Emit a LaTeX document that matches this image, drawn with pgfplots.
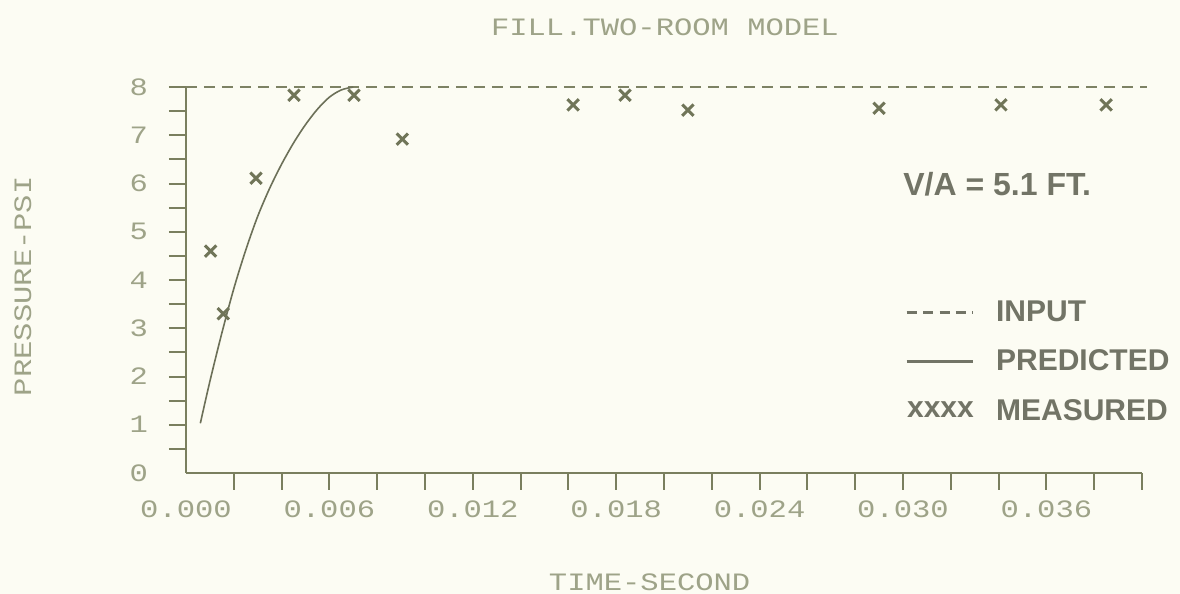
\documentclass[border=0pt]{standalone}
\usepackage{pgfplots}
\pgfplotsset{compat=1.18}
\usepackage{fontspec}
\setmainfont{Liberation Sans}
\newfontfamily\plotfont[FakeStretch=1.22]{Liberation Mono}
\definecolor{bg}{RGB}{252,252,243}
\definecolor{axcol}{RGB}{122,127,94}
\definecolor{lblcol}{RGB}{158,163,136}
\definecolor{curvecol}{RGB}{108,112,88}
\definecolor{dashcol}{RGB}{125,130,100}
\definecolor{markcol}{RGB}{112,117,88}
\definecolor{legcol}{RGB}{114,116,102}
\newcommand{\pf}{\plotfont\fontsize{12.5}{13}\selectfont}
\newcommand{\lf}{\bfseries\fontsize{15}{15}\selectfont}
\begin{document}
\begin{tikzpicture}
\useasboundingbox (-93pt,-60.5pt) rectangle (497pt,236.5pt);
\fill[bg] (-93pt,-60.5pt) rectangle (497pt,236.5pt);
\begin{axis}[
  at={(0pt,0pt)}, anchor=south west,
  scale only axis, width=478pt, height=193pt,
  xmin=0, xmax=0.040, ymin=0, ymax=8,
  axis lines=left, axis line style={-, axcol, line width=1pt},
  clip=false,
  scaled x ticks=false,
  /pgf/number format/assume math mode=true,
  xtick={0.006,0.012,0.018,0.024,0.030,0.036},
  minor xtick={0.002,0.004,0.008,0.010,0.014,0.016,0.020,0.022,0.026,0.028,0.032,0.034,0.038,0.040},
  extra x ticks={0}, extra x tick style={tick style={draw=none}},
  ytick={1,2,3,4,5,6,7,8},
  minor ytick={0.5,1.5,2.5,3.5,4.5,5.5,6.5,7.5},
  extra y ticks={0}, extra y tick style={tick style={draw=none}},
  tick align=outside, major tick length=8.5pt, minor tick length=8.5pt,
  tick style={axcol, line width=1pt},
  minor tick style={axcol, line width=1pt},
  xticklabel style={font=\pf, text=lblcol, yshift=-2pt, /pgf/number format/fixed, /pgf/number format/fixed zerofill, /pgf/number format/precision=3},
  yticklabel style={font=\pf, text=lblcol, xshift=-7pt},
  title={FILL.TWO-ROOM MODEL},
  title style={at={(0.501,1.125)}, anchor=center, font=\pf, text=lblcol},
  xlabel={TIME-SECOND},
  xlabel style={at={(axis description cs:0.485,-0.282)}, anchor=center, font=\pf, text=lblcol},
  ylabel={PRESSURE-PSI},
  ylabel style={at={(axis description cs:-0.1705,0.484)}, anchor=center, font=\pf, text=lblcol},
  legend style={at={(0.752,0.458)}, anchor=north west, draw=none, fill=none,
    font=\lf, text=legcol, row sep=8.8pt, inner sep=0pt,
    /tikz/every odd column/.append style={column sep=9pt}},
  legend cell align=left,
]
\addplot[dashcol, dash pattern=on 5.5pt off 3.5pt, line width=0.9pt,
  legend image code/.code={\draw[legcol, dash pattern=on 5pt off 3.2pt, line width=1.4pt] (0pt,0pt) -- (33pt,0pt);}]
  coordinates {(0,8) (0.0402,8)};
\addplot[curvecol, line width=0.8pt, smooth,
  legend image code/.code={\draw[legcol, line width=1.4pt] (0pt,0pt) -- (33pt,0pt);}]
  coordinates {(0.0006,1.03) (0.0010,1.90) (0.0015,2.90) (0.0020,3.82) (0.0025,4.62) (0.0030,5.32) (0.0035,5.90) (0.0040,6.40) (0.0045,6.84) (0.0050,7.22) (0.0055,7.54) (0.0060,7.79) (0.0065,7.94) (0.0070,8.00)};
\addplot[only marks, mark=x, mark size=4pt, markcol, mark options={line width=1.5pt},
  legend image code/.code={\node[anchor=west, inner sep=0pt, font=\lf, text=legcol] at (0pt,0pt) {xxxx};}]
  coordinates {(0.00103,4.60) (0.00156,3.30) (0.00293,6.11) (0.00452,7.83) (0.00703,7.83) (0.00905,6.92) (0.0162,7.63) (0.01837,7.83) (0.0210,7.52) (0.0290,7.56) (0.0341,7.63) (0.0385,7.63)};
\legend{INPUT, PREDICTED, MEASURED}
\node[anchor=west, font=\bfseries\fontsize{16}{16}\selectfont, text=legcol, inner sep=0pt] at (rel axis cs:0.750,0.749) {V/A = 5.1 FT.};
\end{axis}
\end{tikzpicture}
\end{document}
